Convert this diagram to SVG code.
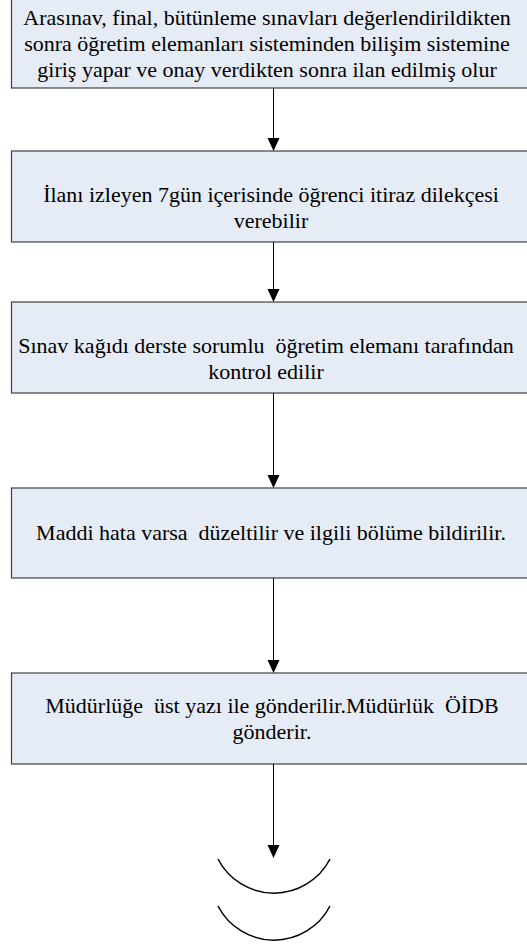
<svg xmlns="http://www.w3.org/2000/svg" width="527" height="947" viewBox="0 0 527 947">
<style>
.box{fill:#e6ecf6;stroke:#404040;stroke-width:1.2}
.t{font-family:"Liberation Serif","Times New Roman",serif;font-size:22px;fill:#000;text-anchor:middle}
.c{stroke:#000;stroke-width:1;fill:none}
.arc{stroke:#000;stroke-width:1.5;fill:none}
</style>
<g id="n1">
<rect class="box" x="11.5" y="-3" width="530" height="91"/>
<text class="t" x="267" y="25">Arasınav, final, bütünleme sınavları değerlendirildikten</text>
<text class="t" x="267" y="51">sonra öğretim elemanları sisteminden bilişim sistemine</text>
<text class="t" x="267" y="77">giriş yapar ve onay verdikten sonra ilan edilmiş olur</text>
</g>
<g id="n2">
<rect class="box" x="11.5" y="151" width="530" height="91"/>
<text class="t" x="271" y="202">İlanı izleyen 7gün içerisinde öğrenci itiraz dilekçesi</text>
<text class="t" x="271" y="228">verebilir</text>
</g>
<g id="n3">
<rect class="box" x="11.5" y="302" width="530" height="91"/>
<text class="t" x="266" y="353" xml:space="preserve">Sınav kağıdı derste sorumlu  öğretim elemanı tarafından</text>
<text class="t" x="266" y="379">kontrol edilir</text>
</g>
<g id="n4">
<rect class="box" x="11.5" y="488" width="530" height="90"/>
<text class="t" x="271" y="540" xml:space="preserve">Maddi hata varsa  düzeltilir ve ilgili bölüme bildirilir.</text>
</g>
<g id="n5">
<rect class="box" x="11.5" y="673" width="530" height="91"/>
<text class="t" x="272" y="713" xml:space="preserve">Müdürlüğe  üst yazı ile gönderilir.Müdürlük  ÖİDB</text>
<text class="t" x="272" y="739">gönderir.</text>
</g>
<g id="end">
<path class="arc" d="M218,859 A63,63 0 0 0 330,859"/>
<path class="arc" d="M218,906 A63,63 0 0 0 330,906"/>
</g>
<g id="connectors">
<path class="c" d="M273.5,88 V138"/><path d="M267.5,138 H279.5 L273.5,151 Z"/>
<path class="c" d="M273.5,242 V289"/><path d="M267.5,289 H279.5 L273.5,302 Z"/>
<path class="c" d="M273.5,393 V475"/><path d="M267.5,475 H279.5 L273.5,488 Z"/>
<path class="c" d="M273.5,578 V660"/><path d="M267.5,660 H279.5 L273.5,673 Z"/>
<path class="c" d="M273.5,764 V845"/><path d="M267.5,845 H279.5 L273.5,858 Z"/>
</g>
</svg>
